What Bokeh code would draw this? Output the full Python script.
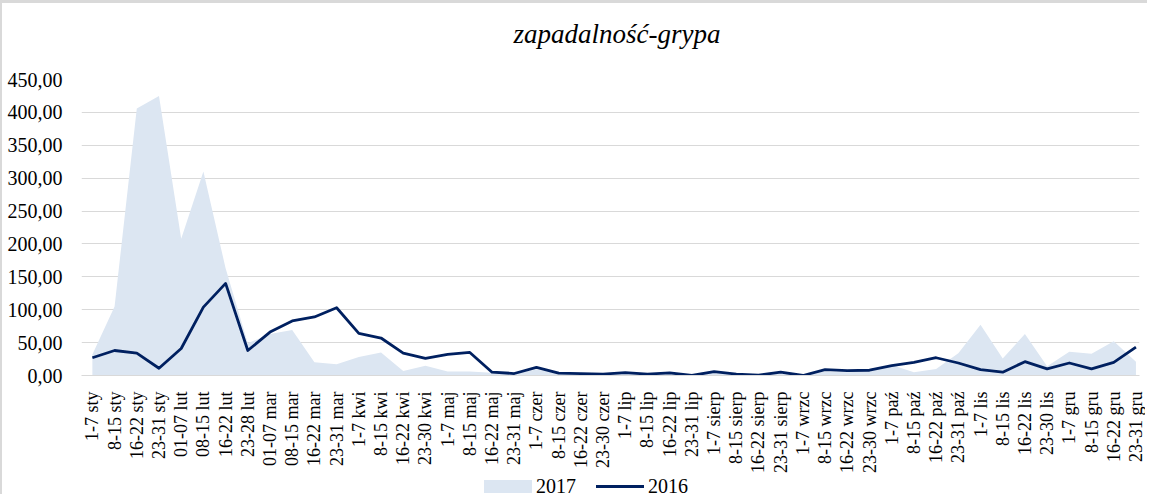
import math
from bokeh.plotting import figure
from bokeh.layouts import column
from bokeh.models import ColumnDataSource, Range1d, FixedTicker, Div
from bokeh.embed import file_html
from bokeh.resources import INLINE

categories = [
    "1-7 sty", "8-15 sty", "16-22 sty", "23-31 sty",
    "01-07 lut", "08-15 lut", "16-22 lut", "23-28 lut",
    "01-07 mar", "08-15 mar", "16-22 mar", "23-31 mar",
    "1-7 kwi", "8-15 kwi", "16-22 kwi", "23-30 kwi",
    "1-7 maj", "8-15 maj", "16-22 maj", "23-31 maj",
    "1-7 czer", "8-15 czer", "16-22 czer", "23-30 czer",
    "1-7 lip", "8-15 lip", "16-22 lip", "23-31 lip",
    "1-7 sierp", "8-15 sierp", "16-22 sierp", "23-31 sierp",
    "1-7 wrzc", "8-15 wrzc", "16-22 wrzc", "23-30 wrzc",
    "1-7 paź", "8-15 paź", "16-22 paź", "23-31 paź",
    "1-7 lis", "8-15 lis", "16-22 lis", "23-30 lis",
    "1-7 gru", "8-15 gru", "16-22 gru", "23-31 gru",
]

values_2017 = [
    32, 105, 406, 425, 208, 310, 163, 49,
    63, 69, 20, 17, 28, 35, 7, 15,
    6, 6, 4, 3, 9, 3, 2, 2,
    3, 2, 3, 1, 4, 2, 1, 3,
    1, 6, 5, 6, 16, 5, 10, 34,
    77, 26, 63, 14, 36, 33, 52, 21,
]

values_2016 = [
    27, 38, 34, 11, 41, 104, 140, 38,
    66, 83, 89, 103, 64, 57, 34, 26,
    32, 35, 5, 3, 12.5, 3.5, 3, 2,
    4.5, 2, 4, 0, 6, 2, 0.5, 5,
    0, 9, 7.5, 8, 15, 20, 27, 19,
    9, 5, 21, 10, 19, 10, 20, 43,
]

y_ticks = [0, 50, 100, 150, 200, 250, 300, 350, 400, 450]
y_tick_labels = ["0,00", "50,00", "100,00", "150,00", "200,00",
                 "250,00", "300,00", "350,00", "400,00", "450,00"]

title_text = "zapadalność-grypa"
series_names = ["2017", "2016"]

AREA_COLOR = "#dce6f2"
LINE_COLOR = "#002060"
GRID_COLOR = "#d9d9d9"
FONT = "Liberation Serif"

xs = list(range(len(categories)))
source = ColumnDataSource(data=dict(x=xs, v2017=values_2017, v2016=values_2016,
                                    zero=[0] * len(xs)))

title_div = Div(
    text=('<div style="width:1147px;height:65px;box-sizing:border-box;'
          'border-top:3px solid #d9d9d9;border-left:2px solid #d9d9d9;'
          'padding-left:85px;text-align:center;font-family:\'Liberation Serif\';'
          'font-style:italic;font-size:27px;line-height:62px;color:#000;">'
          + title_text + '</div>'),
    width=1147, height=65, margin=0)

p = figure(width=1145, height=410, output_backend="svg", toolbar_location=None,
           title=None,
           x_range=Range1d(-0.49, 47.16), y_range=Range1d(0, 450),
           min_border_left=79, min_border_right=8, min_border_top=14,
           min_border_bottom=99, background_fill_color="white",
           border_fill_color="white", outline_line_color=None, margin=0)
p.styles = {"border-left": "2px solid #d9d9d9"}

area = p.varea(x="x", y1="zero", y2="v2017", source=source, fill_color=AREA_COLOR)
line = p.line(x="x", y="v2016", source=source, line_color=LINE_COLOR,
              line_width=2.8, line_join="round")

# axes
p.xaxis.ticker = FixedTicker(ticks=xs)
p.xaxis.major_label_overrides = {i: c for i, c in enumerate(categories)}
p.xaxis.major_label_orientation = math.pi / 2
p.xaxis.major_label_text_font = FONT
p.xaxis.major_label_text_font_size = "18px"
p.xaxis.major_label_text_color = "#000000"
p.xaxis.major_label_standoff = 10
p.xaxis.major_tick_line_color = None
p.xaxis.minor_tick_line_color = None
p.xaxis.axis_line_color = GRID_COLOR

p.yaxis.ticker = FixedTicker(ticks=y_ticks)
p.yaxis.major_label_overrides = {v: l for v, l in zip(y_ticks, y_tick_labels)}
p.yaxis.major_label_text_font = FONT
p.yaxis.major_label_text_font_size = "20px"
p.yaxis.major_label_text_color = "#000000"
p.yaxis.major_label_standoff = 13
p.yaxis.major_tick_line_color = None
p.yaxis.minor_tick_line_color = None
p.yaxis.axis_line_color = None

p.xgrid.grid_line_color = None
p.ygrid.grid_line_color = GRID_COLOR
p.ygrid.grid_line_width = 1

legend_html = (
    '<div style="width:1147px;height:19px;box-sizing:border-box;'
    'border-left:2px solid #d9d9d9;padding-left:482px;white-space:nowrap;'
    'font-family:\'Liberation Serif\';font-size:20px;line-height:19px;color:#000;">'
    '<span style="display:inline-block;width:48px;height:13px;vertical-align:middle;'
    'background:' + AREA_COLOR + ';margin-right:4px;"></span>'
    '<span style="vertical-align:middle;">' + series_names[0] + '</span>'
    '<span style="display:inline-block;width:48px;height:3px;vertical-align:middle;'
    'background:' + LINE_COLOR + ';margin-left:20px;margin-right:4px;"></span>'
    '<span style="vertical-align:middle;">' + series_names[1] + '</span>'
    '</div>')
legend_div = Div(text=legend_html, width=1147, height=19, margin=0)

layout = column(title_div, p, legend_div, spacing=0, margin=0)

open("out.html", "w").write(file_html(layout, INLINE))
